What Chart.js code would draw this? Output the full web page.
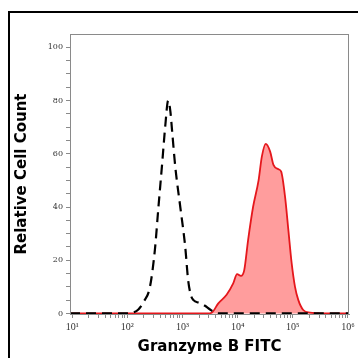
<!DOCTYPE html>
<html>
<head>
<meta charset="utf-8">
<script src="https://cdn.jsdelivr.net/npm/chart.js@4/dist/chart.umd.min.js"></script>
<style>
html,body{margin:0;padding:0;background:#fff;}
#wrap{position:relative;width:358px;height:358px;overflow:hidden;}
#frame{position:absolute;left:8px;top:11px;width:400px;height:400px;border-top:2px solid #000;border-left:2px solid #000;pointer-events:none;}
canvas{position:absolute;left:0;top:0;}
</style>
</head>
<body>
<div id="wrap">
<canvas id="c" width="358" height="358"></canvas>
<div id="frame"></div>
</div>
<script>
// x values are log10 of fluorescence intensity
const xTitle = "Granzyme B FITC";
const yTitle = "Relative Cell Count";
const xMajorExponents = [1, 2, 3, 4, 5, 6];
const superscripts = {1:"\u00B9",2:"\u00B2",3:"\u00B3",4:"\u2074",5:"\u2075",6:"\u2076"};

const isoLogX = [0.96, 2.0, 2.1, 2.2, 2.3, 2.41, 2.5, 2.56, 2.63, 2.69, 2.74, 2.78, 2.81, 2.87, 2.96, 3.05, 3.1, 3.15, 3.2, 3.3, 3.4, 3.5, 3.6, 3.7, 6.02];
const isoCount = [0, 0, 0.3, 1.5, 4.5, 10, 24, 39, 56, 71, 80, 76, 69, 55, 40, 25, 13, 7, 5, 4, 3, 1.5, 0.3, 0, 0];

const gzbLogX = [0.96, 3.45, 3.53, 3.65, 3.80, 3.92, 3.99, 4.06, 4.12, 4.19, 4.28, 4.38, 4.44, 4.51, 4.59, 4.65, 4.74, 4.79, 4.86, 4.92, 4.98, 5.04, 5.10, 5.19, 5.31, 5.46, 5.6, 6.02];
const gzbCount = [0, 0, 0.3, 3.8, 7, 11.3, 14.8, 14.1, 16.3, 27.6, 40, 50, 59, 63.7, 60.8, 55.8, 54.2, 53.3, 43.9, 31.4, 18.9, 10.1, 5.1, 1.3, 0.3, 0.1, 0, 0];

const toPts = (xs, ys) => xs.map((x, i) => ({x: x, y: ys[i]}));

const boxPlugin = {
  id: 'box',
  afterDraw(chart) {
    const a = chart.chartArea, ctx = chart.ctx;
    ctx.save();
    ctx.strokeStyle = '#8a8a8a';
    ctx.lineWidth = 1;
    ctx.strokeRect(a.left + 0.5, a.top + 0.5, a.right - a.left - 1, a.bottom - a.top);
    ctx.restore();
  }
};

new Chart(document.getElementById('c'), {
  type: 'line',
  data: {
    datasets: [
      {
        label: 'Isotype',
        data: toPts(isoLogX, isoCount),
        borderColor: '#000',
        borderWidth: 2.2,
        borderDash: [10, 6],
        fill: false,
        pointRadius: 0,
        cubicInterpolationMode: 'monotone',
        order: 0
      },
      {
        label: 'Granzyme B',
        data: toPts(gzbLogX, gzbCount),
        borderColor: '#e5171c',
        backgroundColor: 'rgba(255,60,60,0.5)',
        borderWidth: 1.8,
        fill: 'origin',
        pointRadius: 0,
        cubicInterpolationMode: 'monotone',
        order: 1
      }
    ]
  },
  options: {
    responsive: false,
    animation: false,
    devicePixelRatio: 1,
    layout: {padding: {left: 0, top: 34, right: 9, bottom: 0}},
    plugins: {legend: {display: false}, tooltip: {enabled: false}},
    scales: {
      x: {
        type: 'linear',
        min: 0.96,
        max: 6.02,
        afterBuildTicks(scale) {
          const t = [];
          for (let e = 0; e <= 6; e++) {
            for (let k = 1; k <= 9; k++) {
              const v = e + Math.log10(k);
              if (v >= 0.96 && v <= 6.02) t.push({value: v});
            }
          }
          scale.ticks = t;
        },
        afterFit(scale) { scale.height = 44; },
        border: {display: true, color: '#8a8a8a'},
        grid: {display: true, drawOnChartArea: false, drawTicks: true, tickLength: 4, color: '#8a8a8a'},
        ticks: {
          autoSkip: false,
          maxRotation: 0,
          padding: 3,
          color: '#333',
          font: {family: 'Liberation Serif', size: 10},
          callback(v) {
            const r = Math.round(v);
            if (Math.abs(v - r) < 1e-6 && xMajorExponents.includes(r)) return '10' + superscripts[r];
            return '';
          }
        },
        title: {
          display: true,
          text: xTitle,
          color: '#000',
          font: {family: 'DejaVu Sans', size: 15, weight: 'bold'},
          padding: {top: 0, bottom: 2}
        }
      },
      y: {
        type: 'linear',
        min: -0.2,
        max: 105,
        afterBuildTicks(scale) {
          const t = [];
          for (let v = 0; v <= 100; v += 5) t.push({value: v});
          scale.ticks = t;
        },
        afterFit(scale) { scale.width = 70; },
        border: {display: true, color: '#8a8a8a'},
        grid: {display: true, drawOnChartArea: false, drawTicks: true, tickLength: 4, color: '#8a8a8a'},
        ticks: {
          autoSkip: false,
          padding: 3,
          color: '#333',
          font: {family: 'DejaVu Serif', size: 8},
          callback(v) { return v % 20 === 0 ? String(v) : ''; }
        },
        title: {
          display: true,
          text: yTitle,
          color: '#000',
          font: {family: 'DejaVu Sans', size: 15, weight: 'bold'},
          padding: {top: 13, bottom: 0}
        }
      }
    }
  },
  plugins: [boxPlugin]
});
</script>
</body>
</html>
